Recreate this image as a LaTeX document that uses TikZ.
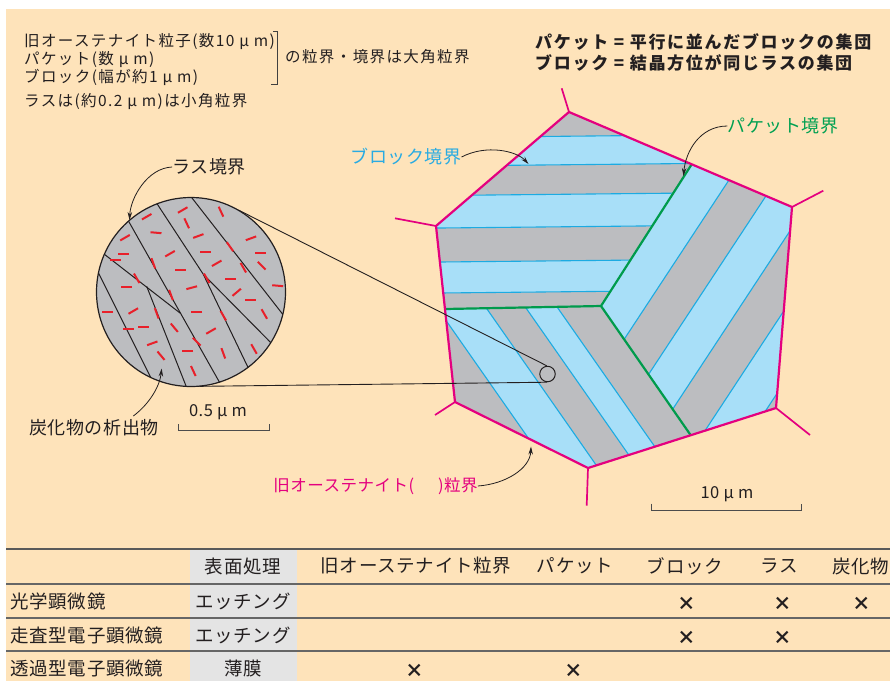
\documentclass[tikz,border=0pt]{standalone}
\usepackage{fontspec}
\usetikzlibrary{arrows.meta}
\newfontfamily\jpwide[LetterSpace=9]{Noto Sans CJK JP}
\newfontfamily\jpmid[LetterSpace=10]{Noto Sans CJK JP}
\newfontfamily\jpnarrow[LetterSpace=3]{Noto Sans CJK JP}
\newfontfamily\jptab[LetterSpace=4]{Noto Sans CJK JP}
\newcommand\fTopL{\jpwide\fontsize{15.5}{18}\selectfont}
\newcommand\fTopR{\jpmid\bfseries\fontsize{17}{20}\selectfont}
\newcommand\fLab{\jpnarrow\fontsize{18}{21}\selectfont}
\newcommand\fLabS{\jpnarrow\fontsize{16.5}{19}\selectfont}
\newcommand\fTab{\jptab\fontsize{18.5}{22}\selectfont}
\newcommand\fScale{\jpnarrow\fontsize{16.5}{19}\selectfont}
\definecolor{paper}{HTML}{FEE3BA}
\definecolor{lathgrey}{HTML}{BCBDC0}
\definecolor{bandblue}{HTML}{A8DFF8}
\definecolor{bandline}{HTML}{1CABE2}
\definecolor{pinkB}{HTML}{E4007F}
\definecolor{greenB}{HTML}{009B4C}
\definecolor{redC}{HTML}{E8202A}
\definecolor{colgrey}{HTML}{E4E4E4}
\definecolor{cyanT}{HTML}{29ABE2}
\definecolor{greenT}{HTML}{00A051}
\definecolor{ink}{HTML}{231F20}
\begin{document}
\begin{tikzpicture}[x=1pt,y=-1pt,
  grain/.style={draw=pinkB,line width=2.2pt,line join=round},
  spike/.style={draw=pinkB,line width=1.7pt},
  packetb/.style={draw=greenB,line width=2.2pt,line join=round},
  lathb/.style={draw=bandline,line width=1.1pt},
  callout/.style={draw=ink,line width=0.8pt,-{Stealth[length=8pt,width=4.5pt]}},
  carbide/.style={draw=redC,line width=2pt},
  lathedge/.style={draw=ink,line width=1pt},
  magline/.style={draw=ink,line width=0.9pt},
  scalebar/.style={draw=black!70,line width=1.2pt},
  rowrule/.style={draw=black!60,line width=1.5pt},
  toprule/.style={draw=black!65,line width=2.2pt},
  txt/.style={inner sep=0pt,text=ink},
  cell/.style={inner sep=0pt,font=\fTab,text=ink},
  xmark/.style={inner sep=0pt,font=\fTab\bfseries,text=ink}
]
\useasboundingbox (0,0) rectangle (890,681);
\fill[white] (0,0) rectangle (890,681);
\fill[paper] (6,9) rectangle (890,681);

% ---------- notes at the top ----------
\node[txt,anchor=west,font=\fTopL] (n1) at (24,41.7) {旧オーステナイト粒子(数10 μ m)};
\node[txt,anchor=west,font=\fTopL] (n2) at (24,59.5) {パケット(数 μ m)};
\node[txt,anchor=west,font=\fTopL] (n3) at (24,77.3) {ブロック(幅が約1 μ m)};
\draw[draw=black!75,line width=1pt] (273,31.5) -- (277,31.5) -- (277,84) -- (271,84);
\node[txt,anchor=west,font=\fTopL] (n4) at (285,56.7) {の粒界・境界は大角粒界};
\node[txt,anchor=west,font=\fTopL] (n5) at (24,102) {ラスは(約0.2 μ m)は小角粒界};
\node[txt,anchor=west,font=\fTopR] (d1) at (535,41.7) {パケット = 平行に並んだブロックの集団};
\node[txt,anchor=west,font=\fTopR] (d2) at (535,62.7) {ブロック = 結晶方位が同じラスの集団};

% ---------- prior austenite grain ----------
\coordinate (T) at (569,112);
\coordinate (RT) at (792,207);
\coordinate (RB) at (776,408);
\coordinate (B) at (588,468);
\coordinate (LB) at (455,402);
\coordinate (LT) at (436,226);
\coordinate (P1) at (691.7,164.3);
\coordinate (J) at (601,306);
\coordinate (G2) at (690.7,435.2);
\coordinate (Q) at (445,309);

% packet with horizontal blocks
\begin{scope}
  \clip (T) -- (P1) -- (J) -- (Q) -- (LT) -- cycle;
  \fill[lathgrey] (400,90) rectangle (820,520);
  \foreach \a/\b in {136.5/165,194.5/227,261/292}
    \fill[bandblue] (420,\a+1.2) -- (720,\a-1.8) -- (720,\b-1.8) -- (420,\b+1.2) -- cycle;
  \foreach \a in {136.5,165,194.5,227,261,292}
    \draw[lathb] (420,\a+1.2) -- (720,\a-1.8);
\end{scope}
% packet with blocks rising to the right
\begin{scope}
  \clip (P1) -- (RT) -- (RB) -- (G2) -- (J) -- cycle;
  \fill[lathgrey] (400,90) rectangle (820,520);
  \foreach \a/\b in {585/650,697.5/744.5,791/838.5}
    \fill[bandblue] (\a+131.6,100) -- (\b+131.6,100) -- (\b-131.6,500) -- (\a-131.6,500) -- cycle;
  \foreach \a in {650,697.5,744.5,791,838.5}
    \draw[lathb] (\a+131.6,100) -- (\a-131.6,500);
\end{scope}
% packet with blocks falling to the right
\begin{scope}
  \clip (Q) -- (J) -- (G2) -- (B) -- (LB) -- cycle;
  \fill[lathgrey] (400,90) rectangle (820,520);
  \foreach \a/\b in {438/487,526.7/558.5}
    \fill[bandblue] (\a-13.3,290) -- (\b-13.3,290) -- (\b+133.6,500) -- (\a+133.6,500) -- cycle;
  \foreach \a in {438,487,526.7,558.5}
    \draw[lathb] (\a-13.3,290) -- (\a+133.6,500);
\end{scope}
% packet boundaries
\draw[packetb] (P1) -- (J) -- (G2);
\draw[packetb] (J) -- (Q);
% grain boundary with neighbouring boundaries
\draw[spike] (T) -- (561.7,88.3);
\draw[spike] (LT) -- (395,218.3);
\draw[spike] (RT) -- (823.3,190.7);
\draw[spike] (RB) -- (810,435);
\draw[spike] (B) -- (586.7,505.7);
\draw[spike] (LB) -- (435,415);
\draw[grain] (T) -- (RT) -- (RB) -- (B) -- (LB) -- (LT) -- cycle;

% ---------- magnified lath structure ----------
\node[circle,fill=lathgrey,minimum size=189pt,inner sep=0pt] (mag) at (191,292) {};
\begin{scope}
  \clip (191,292) circle (94.5);
  \draw[lathedge] (120,206) -- (225,392);
  \draw[lathedge] (150,193) -- (203.3,274.3) -- (285,357);
  \draw[lathedge] (203.3,274.3) -- (255,382);
  \draw[lathedge] (185,189) -- (295,330);
  \draw[lathedge] (95,247) -- (180.4,313.3);
  \draw[lathedge] (92,260) -- (158,392);
  \draw[lathedge] (146.7,286.4) -- (190,396);
  \foreach \x/\y/\d in {146.7/216.7/-30,182.7/210/-30,221/211.7/65,125/237.7/-30,
      156/232.7/5,186.7/223.3/65,198.3/236/-20,251/238.3/-20,123.3/254.3/0,115/260/0,
      170/253.7/-30,205/252.3/0,230/246.7/55,260/252.7/0,261.7/265.7/45,216.7/263.3/-30,
      243.3/267.7/60,153.3/263.3/70,180/270.3/0,136.7/278.3/60,126.7/287/0,191.7/287.7/-15,
      206.7/278.3/60,230/279.3/0,277.7/285.7/5,236.7/292.3/-40,250/300.3/0,107.7/311.7/0,
      133.3/311/-30,171/295/70,156.7/313.3/70,196.7/312.3/0,223.3/315.7/60,264.3/314/60,
      128.3/329.3/0,143.3/326.7/0,174.3/327.7/50,211/331/-30,152.3/343.3/-20,
      196.7/341.7/45,187.7/351/0,223.3/353.3/70,161/355.7/50,254/349/60,193.3/371/65}
    \draw[carbide] (\x,\y) ++(\d:5.5) -- ++(\d+180:11);
\end{scope}
\draw[draw=ink,line width=1.2pt] (mag) circle (94.5);
\node[circle,draw=ink,line width=1pt,minimum size=15.5pt,inner sep=0pt] (spot) at (547.5,374) {};
\draw[magline] (mag.60) -- (spot.95);
\draw[magline] (mag.-85) -- (spot.-95);

% ---------- labels and call-outs ----------
\node[txt,font=\fLab] (lath) at (209,167) {ラス境界};
\coordinate (lathTip) at (129.5,220);
\draw[callout] (lath.west) .. controls +(-25,1) and +(1,-22) .. (lathTip);

\node[txt,font=\fLab] (carb) at (94,428) {炭化物の析出物};
\coordinate (carbFrom) at (133.3,416);
\coordinate (carbTip) at (161.7,368.5);
\draw[callout] (carbFrom) .. controls +(16,-12) and +(-2,18) .. (carbTip);

\node[txt,font=\fLab,text=cyanT] (blk) at (406,157) {ブロック境界};
\coordinate (blkTip) at (528.5,164);
\draw[callout] (blk.east) .. controls +(25,-13) and +(-12,-13) .. (blkTip);

\node[txt,font=\fLab,text=greenT] (pkt) at (783,126) {パケット境界};
\coordinate (pktTip) at (683.5,176);
\draw[callout] (pkt.west) .. controls +(-28,0) and +(2,-24) .. (pktTip);

\node[txt,font=\fLabS,text=pinkB] (gam) at (375.5,486) {旧オーステナイト(\hspace{24pt})粒界};
\coordinate (gamTip) at (531,446.5);
\draw[callout] (gam.east) .. controls +(28,-2) and +(-1,22) .. (gamTip);

% scale bars
\node[txt,font=\fScale] (s1) at (218,412) {0.5 μ m};
\draw[scalebar] (178.3,424) -- (178.3,430.7) -- (269.3,430.7) -- (269.3,424);
\node[txt,font=\fScale] (s2) at (727,494) {10 μ m};
\draw[scalebar] (651.7,503.5) -- (651.7,510.7) -- (801.7,510.7) -- (801.7,503.5);

% ---------- table ----------
\fill[colgrey] (190,549) rectangle (297,681);
\draw[toprule] (6,549) -- (890,549);
\foreach \y in {584,618,651} \draw[rowrule] (6,\y) -- (890,\y);
\node[cell] (h1) at (243,566) {表面処理};
\node[cell] (h2) at (416,566) {旧オーステナイト粒界};
\node[cell] (h3) at (575,566) {パケット};
\node[cell] (h4) at (685,566) {ブロック};
\node[cell] (h5) at (779,566) {ラス};
\node[cell,anchor=east] (h6) at (889.5,566) {炭化物};
\node[cell,anchor=west] (r1) at (10,601) {光学顕微鏡};
\node[cell,anchor=west] (r2) at (10,635) {走査型電子顕微鏡};
\node[cell,anchor=west] (r3) at (10,668) {透過型電子顕微鏡};
\node[cell] (t1) at (243,601) {エッチング};
\node[cell] (t2) at (243,635) {エッチング};
\node[cell] (t3) at (243,668) {薄膜};
\node[xmark] (m11) at (687,604) {×};
\node[xmark] (m12) at (783,604) {×};
\node[xmark] (m13) at (862,604) {×};
\node[xmark] (m21) at (687,638) {×};
\node[xmark] (m22) at (783,638) {×};
\node[xmark] (m31) at (415,671) {×};
\node[xmark] (m32) at (574,671) {×};
\end{tikzpicture}
\end{document}
